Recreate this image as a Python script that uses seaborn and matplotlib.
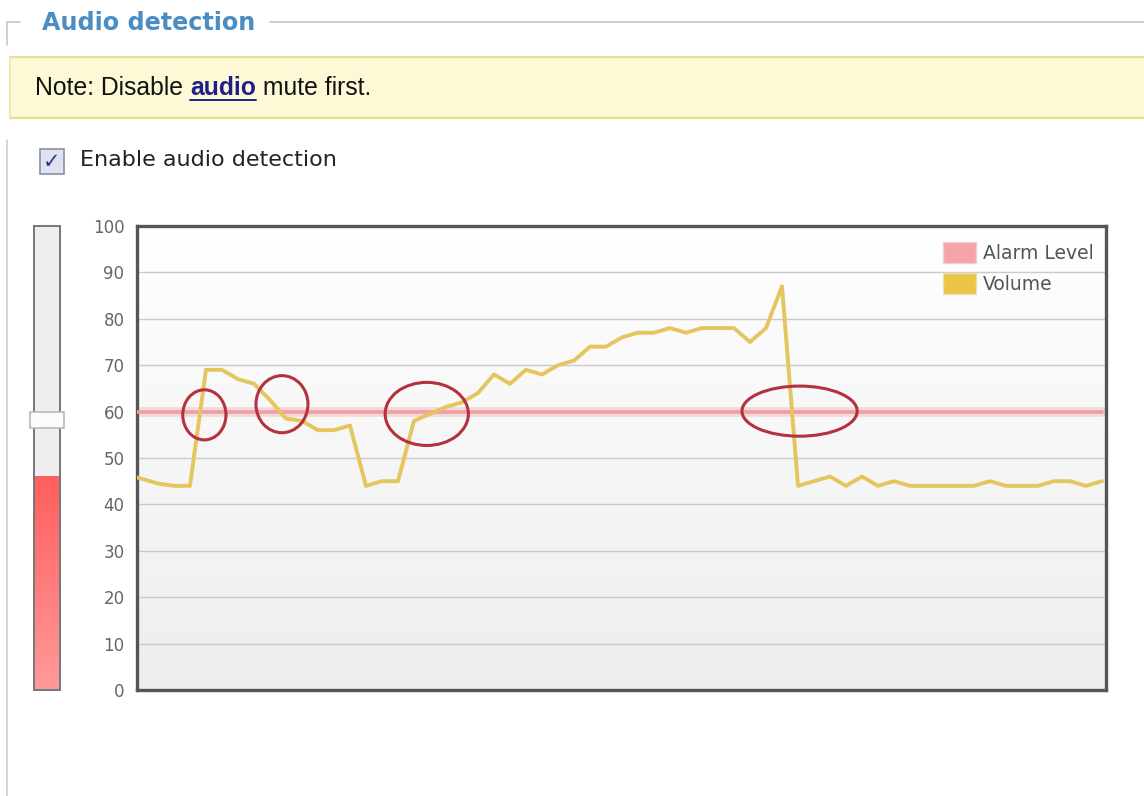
import numpy as np
import pandas as pd
import seaborn as sns
import matplotlib.pyplot as plt
from matplotlib.patches import Rectangle, Ellipse, Patch
from matplotlib.lines import Line2D
from matplotlib.colors import LinearSegmentedColormap

# ---- data -------------------------------------------------------------
volume = [46.5, 45.5, 44.5, 44, 44, 69, 69, 67, 66, 62.5, 58.5, 58, 56, 56, 57,
          44, 45, 45, 58, 59.5, 61, 62, 64, 68, 66, 69, 68, 70, 71, 74, 74,
          76, 77, 77, 78, 77, 78, 78, 78, 75, 78, 87, 44, 45, 46, 44, 46,
          44, 45, 44, 44, 44, 44, 44, 45, 44, 44, 44, 45, 45, 44, 45]
alarm_level = 60
current_level = 46
y_ticks = [0, 10, 20, 30, 40, 50, 60, 70, 80, 90, 100]
series_labels = ["Alarm Level", "Volume"]
# highlighted threshold crossings: (sample, level, width, height)
crossings = [(4.9, 59.3, 2.7, 10.8), (9.75, 61.6, 3.25, 12.3),
             (18.8, 59.5, 5.2, 13.6), (42.1, 60.1, 7.2, 10.8)]

W, H = 1144, 796
sns.set_theme(style="white")
plt.rcParams["font.family"] = ["DejaVu Sans"]

fig = plt.figure(figsize=(W / 100, H / 100), dpi=100)
fig.patch.set_facecolor("white")


def fx(px):
    return px / W


def fy(py):
    return 1 - py / H


# ---- page furniture ---------------------------------------------------
fig.add_artist(Line2D([fx(7), fx(20)], [fy(21.5), fy(21.5)], color="#c8c8c8", lw=1.2))
fig.add_artist(Line2D([fx(270), fx(1144)], [fy(21.5), fy(21.5)], color="#cfcfcf", lw=1.5))
fig.add_artist(Line2D([fx(7), fx(7)], [fy(21.5), fy(45)], color="#c8c8c8", lw=1.2))
fig.add_artist(Line2D([fx(7), fx(7)], [fy(140), fy(796)], color="#d0d0d0", lw=1.2))
fig.text(fx(42), fy(23), "Audio detection", color="#4a8cc4", fontsize=17.2,
         fontweight="bold", va="center", ha="left")

fig.add_artist(Rectangle((fx(10), fy(118)), fx(1134), fy(57) - fy(118),
                         facecolor="#fdf8d6", edgecolor="none"))
for yy in (57, 118):
    fig.add_artist(Line2D([fx(10), fx(1144)], [fy(yy), fy(yy)], color="#e6df8c", lw=1.6))
fig.add_artist(Line2D([fx(10), fx(10)], [fy(57), fy(118)], color="#ece5a8", lw=1.2))

note_fs = 17.8
t1 = fig.text(fx(35), fy(88), "Note: Disable ", fontsize=note_fs, va="center",
              ha="left", color="#111111", family="Liberation Sans")
fig.canvas.draw()
r = fig.canvas.get_renderer()
bb = t1.get_window_extent(r)
t2 = fig.text(bb.x1 / W, fy(88), "audio", fontsize=note_fs, va="center", ha="left",
              color="#1f1f8a", fontweight="bold", family="Liberation Sans")
bb2 = t2.get_window_extent(r)
fig.add_artist(Line2D([bb2.x0 / W, bb2.x1 / W], [fy(100), fy(100)], color="#1f1f8a", lw=1.4))
fig.text(bb2.x1 / W, fy(88), " mute first.", fontsize=note_fs, va="center",
         ha="left", color="#111111", family="Liberation Sans")

fig.add_artist(Rectangle((fx(40), fy(174)), fx(24), fy(149) - fy(174),
                         facecolor="#dfe2ef", edgecolor="#8a8ea6", lw=1.2))
fig.text(fx(52), fy(162), "\u2713", fontsize=15, color="#2a3a8a", ha="center",
         va="center", fontweight="bold")
fig.text(fx(80), fy(160), "Enable audio detection", fontsize=16, color="#222222",
         va="center", ha="left")

# ---- level meter ------------------------------------------------------
meter = fig.add_axes([fx(34), fy(690), fx(26), fy(226) - fy(690)])
meter.set_facecolor("#eeeeee")
reds = LinearSegmentedColormap.from_list("meter", ["#ff9a9a", "#ff5e5e"])
meter.imshow(np.linspace(1, 0, 256).reshape(-1, 1), cmap=reds, aspect="auto",
             extent=(0, 1, 0, current_level), zorder=1)
meter.set_xticks([])
meter.set_yticks([])
for s in meter.spines.values():
    s.set_color("#777777")
    s.set_linewidth(1.4)
meter.add_patch(Rectangle((-0.17, alarm_level - 3.6), 1.34, 3.6, facecolor="#fbfbfb",
                          edgecolor="#b8b8b8", lw=1.2, clip_on=False, zorder=5))
meter.set_xlim(0, 1)
meter.set_ylim(0, 100)

# ---- volume chart -----------------------------------------------------
ax = fig.add_axes([fx(137), fy(690), fx(969), fy(226) - fy(690)])
grad = LinearSegmentedColormap.from_list("bg", ["#eeeeee", "#f6f6f6", "#ffffff"])
ax.imshow(np.linspace(1, 0, 256).reshape(-1, 1), cmap=grad,
          aspect="auto", extent=(0, 1, 0, 1), transform=ax.transAxes, zorder=0)

df = pd.DataFrame({"sample": np.arange(len(volume)), "volume": volume})
df["alarm"] = alarm_level

for yv in y_ticks[1:-1]:
    ax.axhline(yv, color="#cacaca", lw=1.0, zorder=1)

sns.lineplot(data=df, x="sample", y="alarm", ax=ax, color="#f3b4b4", lw=7,
             alpha=0.45, zorder=2)
sns.lineplot(data=df, x="sample", y="alarm", ax=ax, color="#eda0a4", lw=2.6, zorder=3)
sns.lineplot(data=df, x="sample", y="volume", ax=ax, color="#e4c55e", lw=2.8, zorder=4)

for cx, cy, w, h in crossings:
    ax.add_patch(Ellipse((cx, cy), w, h, fill=False, edgecolor="#b3323e", lw=2.2,
                         zorder=6))

ax.set_xlim(0.69, 61.25)
ax.set_ylim(0, 100)
ax.set_xticks([])
ax.set_yticks(y_ticks)
ax.set_yticklabels([str(v) for v in y_ticks], color="#666666", fontsize=12)
ax.tick_params(axis="y", length=0, pad=9)
ax.set_xlabel("")
ax.set_ylabel("")
for s in ax.spines.values():
    s.set_visible(True)
    s.set_color("#555555")
    s.set_linewidth(2.4)

handles = [Patch(facecolor="#f5a5a8", edgecolor="#f0d0d0", lw=1.0),
           Patch(facecolor="#e9c548", edgecolor="#efe0b0", lw=1.0)]
leg = ax.legend(handles, series_labels, loc="upper right", bbox_to_anchor=(1.0, 0.991),
                frameon=False, fontsize=13.5, handlelength=1.75, handleheight=1.3,
                handletextpad=0.4, labelspacing=0.55, borderaxespad=0.25,
                labelcolor="#555555")

fig.savefig("out.png", dpi=100, facecolor="white")
